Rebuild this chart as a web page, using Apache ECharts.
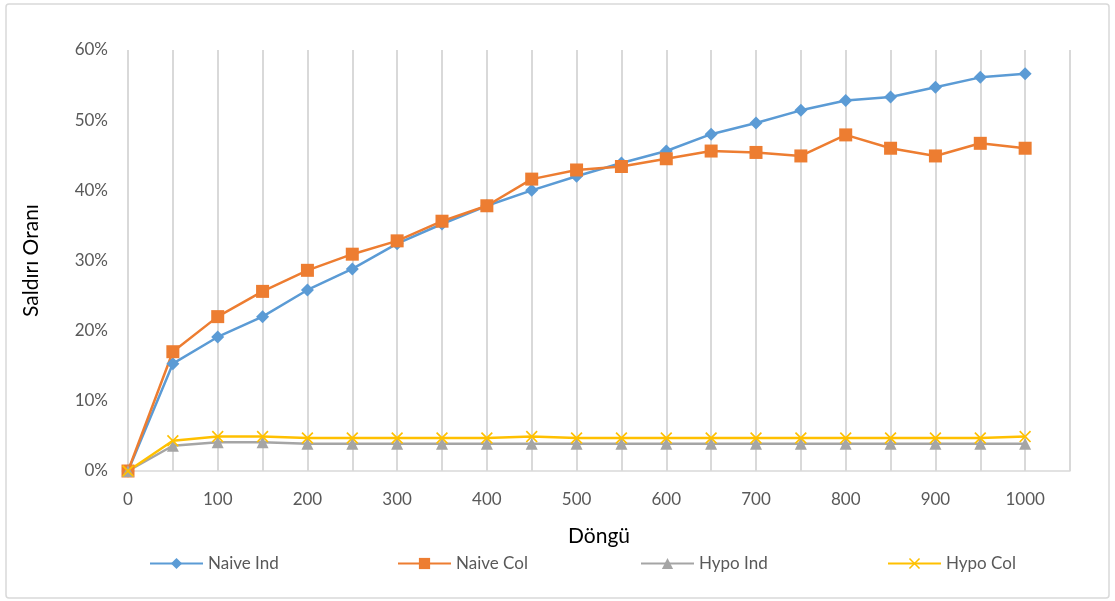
<!DOCTYPE html>
<html>
<head>
<meta charset="utf-8">
<script src="https://cdn.jsdelivr.net/npm/echarts@6/dist/echarts.min.js"></script>
<style>
  html, body { margin: 0; padding: 0; background: #fff; }
  #chart { width: 1115px; height: 601px; }
</style>
</head>
<body>
<div id="chart"></div>
<script>
// Iterations (Döngü); the trailing empty slot leaves room after 1000
const iterations = ['0','50','100','150','200','250','300','350','400','450','500',
                    '550','600','650','700','750','800','850','900','950','1000',''];

// Attack rate in percent
const naiveInd = [0, 15.3, 19.1, 22.0, 25.8, 28.8, 32.4, 35.2, 37.8, 40.0, 42.0,
                  43.9, 45.6, 48.0, 49.6, 51.4, 52.8, 53.3, 54.7, 56.1, 56.6, null];
const naiveCol = [0, 17.0, 22.0, 25.6, 28.6, 30.9, 32.8, 35.6, 37.8, 41.6, 42.9,
                  43.4, 44.5, 45.6, 45.4, 44.9, 47.9, 46.0, 44.9, 46.7, 46.0, null];
const hypoInd  = [0, 3.6, 4.1, 4.1, 3.9, 3.9, 3.9, 3.9, 3.9, 3.9, 3.9,
                  3.9, 3.9, 3.9, 3.9, 3.9, 3.9, 3.9, 3.9, 3.9, 3.9, null];
const hypoCol  = [0, 4.3, 4.9, 4.9, 4.7, 4.7, 4.7, 4.7, 4.7, 4.9, 4.7,
                  4.7, 4.7, 4.7, 4.7, 4.7, 4.7, 4.7, 4.7, 4.7, 4.9, null];

const seriesNames = ['Naive Ind', 'Naive Col', 'Hypo Ind', 'Hypo Col'];
const yTicks = { min: 0, max: 60, interval: 10 };

const FONT = 'Lato, "Open Sans", "Noto Sans", sans-serif';
const crossPath = 'path://M0,1L1,0L5,4L9,0L10,1L6,5L10,9L9,10L5,6L1,10L0,9L4,5Z';

function lineSeries(name, data, color, symbol, size) {
  return {
    name: name,
    type: 'line',
    data: data,
    symbol: symbol,
    symbolSize: size,
    showSymbol: true,
    lineStyle: { color: color, width: 2.5 },
    itemStyle: { color: color },
    emphasis: { disabled: true },
    animation: false
  };
}

// one legend block per series, spread evenly along the bottom
const legendLefts = [149, 397, 640, 887];
const legends = seriesNames.map((n, i) => ({
  data: [n],
  left: legendLefts[i],
  top: 555,
  padding: 0,
  itemWidth: 53,
  itemHeight: 14,
  itemGap: 6,
  textStyle: { fontFamily: FONT, fontSize: 17, color: '#595959' }
}));

const chart = echarts.init(document.getElementById('chart'), null, { renderer: 'canvas' });
chart.setOption({
  backgroundColor: '#fff',
  textStyle: { fontFamily: FONT },
  graphic: [{
    type: 'rect',
    shape: { x: 6, y: 4, width: 1103, height: 594, r: 3 },
    style: { fill: 'none', stroke: '#d9d9d9', lineWidth: 1.5 },
    silent: true
  }],
  grid: { left: 128, right: 45, top: 50, bottom: 130 },
  legend: legends,
  xAxis: {
    type: 'category',
    data: iterations,
    boundaryGap: false,
    name: 'Döngü',
    nameLocation: 'middle',
    nameGap: 55,
    nameTextStyle: { fontFamily: FONT, fontSize: 21, color: '#000' },
    axisLine: { show: true, lineStyle: { color: '#d9d9d9', width: 1.5 } },
    axisTick: { show: false },
    axisLabel: { interval: 1, fontFamily: FONT, fontSize: 17, color: '#595959', margin: 20 },
    splitLine: { show: true, interval: 0, lineStyle: { color: '#d9d9d9', width: 2 } }
  },
  yAxis: {
    type: 'value',
    min: yTicks.min,
    max: yTicks.max,
    interval: yTicks.interval,
    name: 'Saldırı Oranı',
    nameLocation: 'middle',
    nameGap: 86,
    nameRotate: 90,
    nameTextStyle: { fontFamily: FONT, fontSize: 21, color: '#000' },
    axisLine: { show: false },
    axisTick: { show: false },
    splitLine: { show: false },
    axisLabel: { formatter: '{value}%', fontFamily: FONT, fontSize: 17, color: '#595959', margin: 20 }
  },
  series: [
    lineSeries(seriesNames[0], naiveInd, '#5B9BD5', 'diamond', 13),
    lineSeries(seriesNames[1], naiveCol, '#ED7D31', 'rect', 13),
    lineSeries(seriesNames[2], hypoInd, '#A5A5A5', 'triangle', 12),
    lineSeries(seriesNames[3], hypoCol, '#FFC000', crossPath, 12)
  ]
});
</script>
</body>
</html>
